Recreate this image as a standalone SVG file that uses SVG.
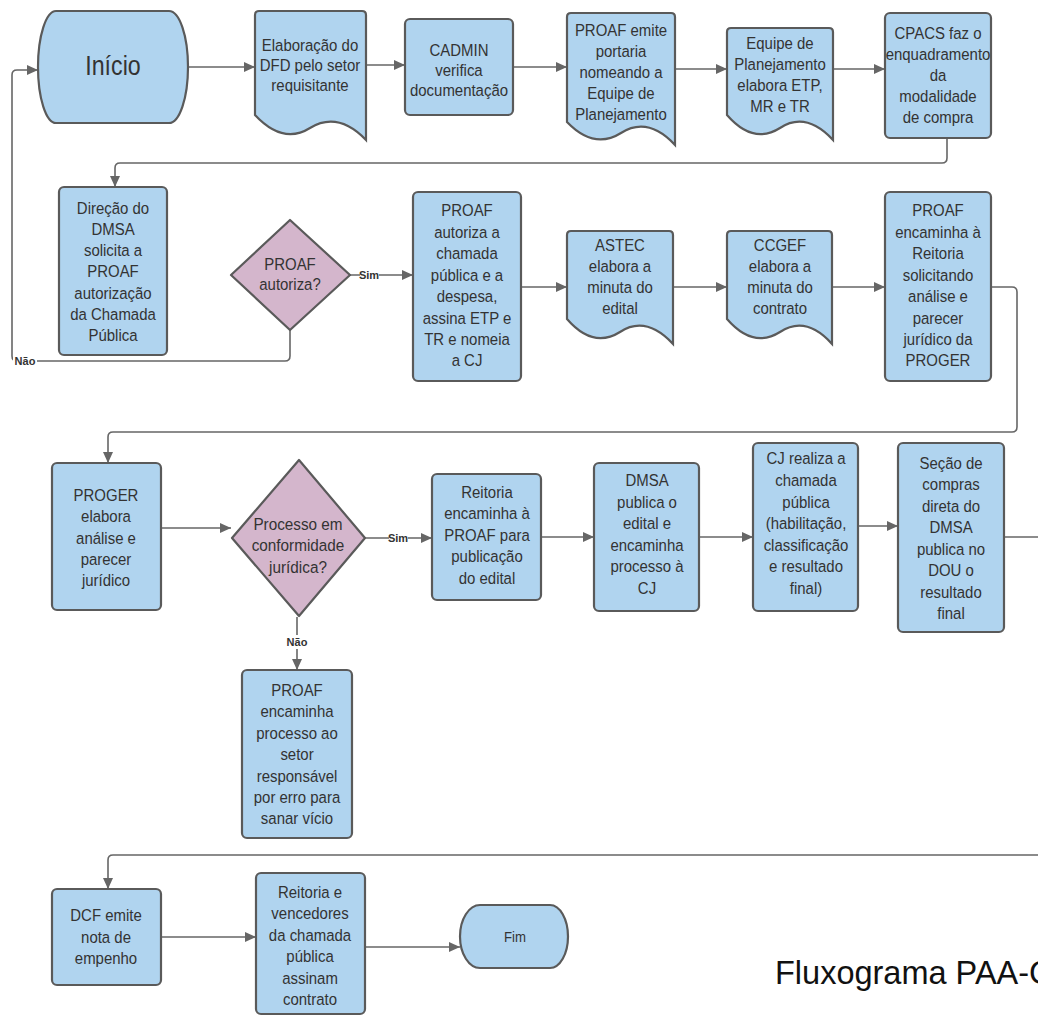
<svg xmlns="http://www.w3.org/2000/svg" width="1038" height="1016" viewBox="0 0 1038 1016">
<style>
.n{fill:#b0d4ef;stroke:#5a5a5a;stroke-width:2.2}
.d{fill:#d4b6cc;stroke:#5a5a5a;stroke-width:2.2;stroke-linejoin:round}
.t{font-family:"Liberation Sans",Arial,sans-serif;font-size:17px;fill:#333;text-anchor:middle}
.c{fill:none;stroke:#666;stroke-width:1.6}
.a{marker-end:url(#ah)}
.l{font-family:"Liberation Sans",Arial,sans-serif;font-size:11px;font-weight:bold;fill:#333;text-anchor:middle}
</style>
<defs>
<marker id="ah" markerUnits="userSpaceOnUse" markerWidth="12" markerHeight="10" refX="11" refY="5" orient="auto">
<path d="M0,0 L11,5 L0,10 Z" fill="#666"/>
</marker>
</defs>
<rect width="1038" height="1016" fill="#fff"/>

<g id="connectors">
<path class="c a" d="M187,67 H255"/>
<path class="c a" d="M366,65 H405"/>
<path class="c a" d="M513,67 H567"/>
<path class="c a" d="M675,69 H727"/>
<path class="c a" d="M833,69 H885"/>
<path class="c a" d="M947,138 V158 Q947,163 942,163 H120 Q115,163 115,168 V187"/>
<path class="c a" d="M350,275 H413"/>
<path class="c a" d="M290,330 V356 Q290,361 285,361 H17 Q12,361 12,356 V75 Q12,70 17,70 H38"/>
<path class="c a" d="M521,287 H567"/>
<path class="c a" d="M673,287 H727"/>
<path class="c a" d="M832,287 H885"/>
<path class="c a" d="M991,287 H1012 Q1017,287 1017,292 V427 Q1017,432 1012,432 H113 Q108,432 108,437 V463"/>
<path class="c a" d="M161,528 H231"/>
<path class="c a" d="M364,538 H432"/>
<path class="c a" d="M297,617 V670"/>
<path class="c a" d="M541,537 H594"/>
<path class="c a" d="M699,537 H753"/>
<path class="c a" d="M858,526 H898"/>
<path class="c" d="M1004,537 H1038"/>
<path class="c a" d="M1038,855 H113 Q108,855 108,860 V889"/>
<path class="c a" d="M161,937 H256"/>
<path class="c a" d="M365,947 H460"/>
<rect x="360" y="268" width="19" height="14" fill="#fff"/>
<text class="l" x="369" y="279">Sim</text>
<rect x="389" y="531" width="19" height="14" fill="#fff"/>
<text class="l" x="398" y="542">Sim</text>
<rect x="13" y="354" width="24" height="14" fill="#fff"/>
<text class="l" x="25" y="365">Não</text>
<rect x="285" y="635" width="24" height="14" fill="#fff"/>
<text class="l" x="297" y="646">Não</text>
</g>

<g id="inicio">
<path class="n" d="M56,11 H169 A19,56 0 0 1 169,123 H56 A18,56 0 0 1 56,11 Z"/>
<text class="t" style="font-size:27px" transform="translate(113 0) scale(0.86 1)"><tspan x="0" y="75">Início</tspan></text>
</g>

<g id="elaboracao">
<path class="n" d="M255,15 Q255,11 259,11 H362 Q366,11 366,15 V140 Q338,111 310,128 Q283,145 255,115 Z"/>
<text class="t" transform="translate(310 0) scale(0.88 1)"><tspan x="0" y="51">Elaboração do</tspan><tspan x="0" y="71">DFD pelo setor</tspan><tspan x="0" y="91">requisitante</tspan></text>
</g>

<g id="cadmin">
<rect class="n" x="405" y="19" width="108" height="96" rx="5"/>
<text class="t" transform="translate(459 0) scale(0.88 1)"><tspan x="0" y="56">CADMIN</tspan><tspan x="0" y="76">verifica</tspan><tspan x="0" y="96">documentação</tspan></text>
</g>

<g id="proaf-portaria">
<path class="n" d="M567,17 Q567,13 571,13 H671 Q675,13 675,17 V145 Q648,116 621,133 Q594,150 567,122 Z"/>
<text class="t" transform="translate(621 0) scale(0.88 1)"><tspan x="0" y="36">PROAF emite</tspan><tspan x="0" y="57">portaria</tspan><tspan x="0" y="78">nomeando a</tspan><tspan x="0" y="99">Equipe de</tspan><tspan x="0" y="120">Planejamento</tspan></text>
</g>

<g id="equipe">
<path class="n" d="M727,32 Q727,28 731,28 H829 Q833,28 833,32 V140 Q806,111 780,128 Q753,145 727,115 Z"/>
<text class="t" transform="translate(780 0) scale(0.88 1)"><tspan x="0" y="49">Equipe de</tspan><tspan x="0" y="70">Planejamento</tspan><tspan x="0" y="91">elabora ETP,</tspan><tspan x="0" y="112">MR e TR</tspan></text>
</g>

<g id="cpacs">
<rect class="n" x="885" y="13" width="106" height="125" rx="5"/>
<text class="t" transform="translate(938 0) scale(0.88 1)"><tspan x="0" y="39">CPACS faz o</tspan><tspan x="0" y="60">enquadramento</tspan><tspan x="0" y="81">da</tspan><tspan x="0" y="102">modalidade</tspan><tspan x="0" y="123">de compra</tspan></text>
</g>

<g id="direcao">
<rect class="n" x="59" y="187" width="108" height="168" rx="5"/>
<text class="t" transform="translate(113 0) scale(0.88 1)"><tspan x="0" y="214">Direção do</tspan><tspan x="0" y="235">DMSA</tspan><tspan x="0" y="256">solicita a</tspan><tspan x="0" y="277">PROAF</tspan><tspan x="0" y="299">autorização</tspan><tspan x="0" y="320">da Chamada</tspan><tspan x="0" y="341">Pública</tspan></text>
</g>

<g id="proaf-autoriza-dec">
<path class="d" d="M290,220 L350,275 L290,330 L231,275 Z"/>
<text class="t" transform="translate(290 0) scale(0.88 1)"><tspan x="0" y="270">PROAF</tspan><tspan x="0" y="290">autoriza?</tspan></text>
</g>

<g id="proaf-autoriza">
<rect class="n" x="413" y="192" width="108" height="189" rx="5"/>
<text class="t" transform="translate(467 0) scale(0.88 1)"><tspan x="0" y="216">PROAF</tspan><tspan x="0" y="238">autoriza a</tspan><tspan x="0" y="259">chamada</tspan><tspan x="0" y="281">pública e a</tspan><tspan x="0" y="302">despesa,</tspan><tspan x="0" y="324">assina ETP e</tspan><tspan x="0" y="345">TR e nomeia</tspan><tspan x="0" y="366">a CJ</tspan></text>
</g>

<g id="astec">
<path class="n" d="M567,235 Q567,231 571,231 H669 Q673,231 673,235 V344 Q646,315 620,332 Q593,349 567,319 Z"/>
<text class="t" transform="translate(620 0) scale(0.88 1)"><tspan x="0" y="251">ASTEC</tspan><tspan x="0" y="272">elabora a</tspan><tspan x="0" y="293">minuta do</tspan><tspan x="0" y="314">edital</tspan></text>
</g>

<g id="ccgef">
<path class="n" d="M727,235 Q727,231 731,231 H828 Q832,231 832,235 V344 Q806,315 780,332 Q753,349 727,319 Z"/>
<text class="t" transform="translate(780 0) scale(0.88 1)"><tspan x="0" y="251">CCGEF</tspan><tspan x="0" y="272">elabora a</tspan><tspan x="0" y="293">minuta do</tspan><tspan x="0" y="314">contrato</tspan></text>
</g>

<g id="proaf-encaminha">
<rect class="n" x="885" y="192" width="106" height="189" rx="5"/>
<text class="t" transform="translate(938 0) scale(0.88 1)"><tspan x="0" y="216">PROAF</tspan><tspan x="0" y="238">encaminha à</tspan><tspan x="0" y="259">Reitoria</tspan><tspan x="0" y="281">solicitando</tspan><tspan x="0" y="302">análise e</tspan><tspan x="0" y="324">parecer</tspan><tspan x="0" y="345">jurídico da</tspan><tspan x="0" y="366">PROGER</tspan></text>
</g>

<g id="proger">
<rect class="n" x="52" y="463" width="109" height="147" rx="5"/>
<text class="t" transform="translate(106 0) scale(0.88 1)"><tspan x="0" y="501">PROGER</tspan><tspan x="0" y="522">elabora</tspan><tspan x="0" y="544">análise e</tspan><tspan x="0" y="565">parecer</tspan><tspan x="0" y="586">jurídico</tspan></text>
</g>

<g id="conformidade-dec">
<path class="d" d="M299,460 L365,538 L299,616 L232,538 Z"/>
<text class="t" transform="translate(298 0) scale(0.9 1)"><tspan x="0" y="530">Processo em</tspan><tspan x="0" y="551">conformidade</tspan><tspan x="0" y="573">jurídica?</tspan></text>
</g>

<g id="reitoria-encaminha">
<rect class="n" x="432" y="474" width="109" height="126" rx="5"/>
<text class="t" transform="translate(487 0) scale(0.88 1)"><tspan x="0" y="498">Reitoria</tspan><tspan x="0" y="519">encaminha à</tspan><tspan x="0" y="541">PROAF para</tspan><tspan x="0" y="562">publicação</tspan><tspan x="0" y="584">do edital</tspan></text>
</g>

<g id="dmsa-publica">
<rect class="n" x="594" y="463" width="105" height="148" rx="5"/>
<text class="t" transform="translate(647 0) scale(0.88 1)"><tspan x="0" y="486">DMSA</tspan><tspan x="0" y="508">publica o</tspan><tspan x="0" y="529">edital e</tspan><tspan x="0" y="551">encaminha</tspan><tspan x="0" y="572">processo à</tspan><tspan x="0" y="594">CJ</tspan></text>
</g>

<g id="cj-realiza">
<rect class="n" x="753" y="443" width="105" height="168" rx="5"/>
<text class="t" transform="translate(806 0) scale(0.88 1)"><tspan x="0" y="464">CJ realiza a</tspan><tspan x="0" y="486">chamada</tspan><tspan x="0" y="508">pública</tspan><tspan x="0" y="529">(habilitação,</tspan><tspan x="0" y="551">classificação</tspan><tspan x="0" y="572">e resultado</tspan><tspan x="0" y="594">final)</tspan></text>
</g>

<g id="secao-compras">
<rect class="n" x="898" y="443" width="106" height="189" rx="5"/>
<text class="t" transform="translate(951 0) scale(0.88 1)"><tspan x="0" y="469">Seção de</tspan><tspan x="0" y="490">compras</tspan><tspan x="0" y="512">direta do</tspan><tspan x="0" y="533">DMSA</tspan><tspan x="0" y="555">publica no</tspan><tspan x="0" y="576">DOU o</tspan><tspan x="0" y="598">resultado</tspan><tspan x="0" y="619">final</tspan></text>
</g>

<g id="proaf-vicio">
<rect class="n" x="242" y="670" width="110" height="168" rx="5"/>
<text class="t" transform="translate(297 0) scale(0.88 1)"><tspan x="0" y="696">PROAF</tspan><tspan x="0" y="717">encaminha</tspan><tspan x="0" y="739">processo ao</tspan><tspan x="0" y="760">setor</tspan><tspan x="0" y="782">responsável</tspan><tspan x="0" y="803">por erro para</tspan><tspan x="0" y="824">sanar vício</tspan></text>
</g>

<g id="dcf">
<rect class="n" x="52" y="889" width="109" height="96" rx="5"/>
<text class="t" transform="translate(106 0) scale(0.88 1)"><tspan x="0" y="921">DCF emite</tspan><tspan x="0" y="943">nota de</tspan><tspan x="0" y="964">empenho</tspan></text>
</g>

<g id="reitoria-contrato">
<rect class="n" x="256" y="873" width="109" height="141" rx="5"/>
<text class="t" transform="translate(310 0) scale(0.88 1)"><tspan x="0" y="898">Reitoria e</tspan><tspan x="0" y="919">vencedores</tspan><tspan x="0" y="941">da chamada</tspan><tspan x="0" y="962">pública</tspan><tspan x="0" y="984">assinam</tspan><tspan x="0" y="1005">contrato</tspan></text>
</g>

<g id="fim">
<path class="n" d="M480,905 H550 A18,31.5 0 0 1 550,968 H480 A20,31.5 0 0 1 480,905 Z"/>
<text class="t" style="font-size:15px" transform="translate(515 0) scale(0.88 1)"><tspan x="0" y="942">Fim</tspan></text>
</g>

<text x="775" y="984" style="font-family:'Liberation Sans',Arial,sans-serif;font-size:32.5px;fill:#111">Fluxograma PAA-C</text>
</svg>
